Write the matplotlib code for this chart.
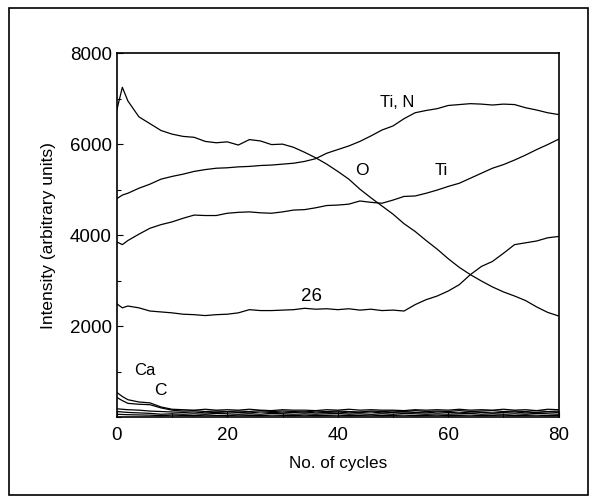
import numpy as np
import matplotlib
matplotlib.use('Agg')
import matplotlib.pyplot as plt
from matplotlib.patches import Rectangle

plt.rcParams['font.family'] = ['Liberation Sans', 'DejaVu Sans']

# cycles: 0, 1, then every 2 up to 80
cycles = [0, 1] + list(range(2, 81, 2))

o_vals = [6750, 7250, 6950, 6600, 6450, 6300, 6220, 6170, 6150, 6060, 6030,
          6050, 5980, 6100, 6070, 5990, 6000, 5930, 5820, 5700, 5560,
          5400, 5230, 5010, 4820, 4640, 4460, 4250, 4080, 3880, 3690,
          3480, 3290, 3130, 2990, 2860, 2750, 2660, 2560, 2420, 2300, 2220]

tin_vals = [4800, 4880, 4920, 5030, 5120, 5230, 5290, 5340, 5400, 5440, 5470,
            5480, 5500, 5510, 5530, 5540, 5560, 5580, 5620, 5680, 5800,
            5880, 5960, 6060, 6180, 6310, 6400, 6560, 6690, 6740, 6780,
            6850, 6870, 6890, 6880, 6860, 6880, 6870, 6800, 6750, 6690, 6650]

ti_vals = [3850, 3790, 3880, 4020, 4150, 4230, 4290, 4370, 4440, 4430, 4430,
           4480, 4500, 4510, 4490, 4480, 4510, 4550, 4560, 4600, 4650,
           4660, 4680, 4750, 4720, 4700, 4770, 4850, 4860, 4920, 4990,
           5070, 5140, 5250, 5360, 5470, 5550, 5650, 5760, 5880, 5990, 6110]

m26_vals = [2490, 2400, 2440, 2400, 2330, 2310, 2290, 2260, 2250, 2230, 2250,
            2260, 2290, 2360, 2340, 2340, 2350, 2360, 2390, 2370, 2380,
            2360, 2380, 2350, 2370, 2340, 2350, 2330, 2470, 2580, 2660,
            2770, 2910, 3130, 3310, 3420, 3600, 3790, 3830, 3870, 3940, 3970]

ca_vals = [540, 450, 380, 330, 310, 220, 170, 160, 150, 170, 150,
           160, 150, 170, 150, 140, 160, 150, 150, 140, 160,
           150, 170, 150, 160, 150, 150, 140, 160, 150, 160,
           150, 170, 150, 160, 150, 170, 150, 160, 140, 170, 160]

c_vals = [430, 360, 300, 280, 270, 200, 150, 130, 140, 120, 130,
          120, 130, 120, 140, 120, 130, 120, 110, 130, 120,
          130, 120, 110, 130, 120, 130, 120, 140, 120, 130,
          120, 140, 120, 130, 140, 120, 130, 120, 140, 120, 130]

low1_vals = [180, 170, 160, 150, 130, 120, 110, 100, 110, 90, 100,
             110, 100, 90, 110, 100, 90, 100, 110, 90, 100,
             110, 90, 100, 110, 90, 100, 110, 100, 90, 110,
             100, 90, 110, 100, 90, 100, 110, 90, 100, 110, 100]

low2_vals = [120, 110, 100, 90, 80, 60, 70, 60, 70, 60, 80,
             70, 60, 70, 60, 80, 70, 60, 70, 60, 70,
             80, 60, 70, 60, 70, 60, 80, 70, 60, 70,
             60, 70, 80, 60, 70, 60, 70, 60, 80, 70, 60]

low3_vals = [60, 55, 50, 45, 40, 30, 40, 35, 30, 40, 35,
             30, 40, 35, 30, 40, 35, 30, 40, 30, 35,
             40, 30, 35, 40, 30, 35, 40, 30, 35, 40,
             30, 35, 40, 30, 35, 40, 30, 35, 40, 30, 35]

labels = ['Ti, N', 'O', 'Ti', '26', 'Ca', 'C']
label_x = [50.8, 44.4, 58.8, 35.3, 5.1, 7.9]
label_y = [6920, 5430, 5430, 2640, 1030, 590]
label_size = [12, 12.5, 12, 13.5, 12, 12.5]

fig = plt.figure(figsize=(5.9, 4.97), dpi=100)
ax = fig.add_axes([0.198, 0.161, 0.749, 0.732])

for vals in [o_vals, tin_vals, ti_vals, m26_vals, ca_vals, c_vals,
             low1_vals, low2_vals, low3_vals]:
    ax.plot(cycles, vals, color='black', lw=0.9)

for lab, lx, ly, fs in zip(labels, label_x, label_y, label_size):
    ax.text(lx, ly, lab, fontsize=fs, ha='center', va='center')

ax.set_xlim(0, 80)
ax.set_ylim(0, 8000)
ax.set_xticks([0, 20, 40, 60, 80])
ax.set_yticks([2000, 4000, 6000, 8000])
ax.set_xticks(range(0, 81, 10), minor=True)
ax.set_yticks(range(0, 8001, 1000), minor=True)
ax.tick_params(direction='in', labelsize=13.5, length=4, width=0.8)
ax.tick_params(axis='x', pad=7)
ax.tick_params(which='minor', direction='in', length=3, width=0.8)
for s in ax.spines.values():
    s.set_linewidth(1.2)

ax.set_xlabel('No. of cycles', fontsize=12.3, labelpad=9)
ax.set_ylabel('Intensity (arbitrary units)', fontsize=12.5, labelpad=10)

# outer frame around figure
fig.patches.append(Rectangle((9 / 590, 0.004), 579 / 590, 0.98,
                             transform=fig.transFigure, fill=False,
                             edgecolor='black', lw=1.2))

fig.savefig('out.png', dpi=100)
